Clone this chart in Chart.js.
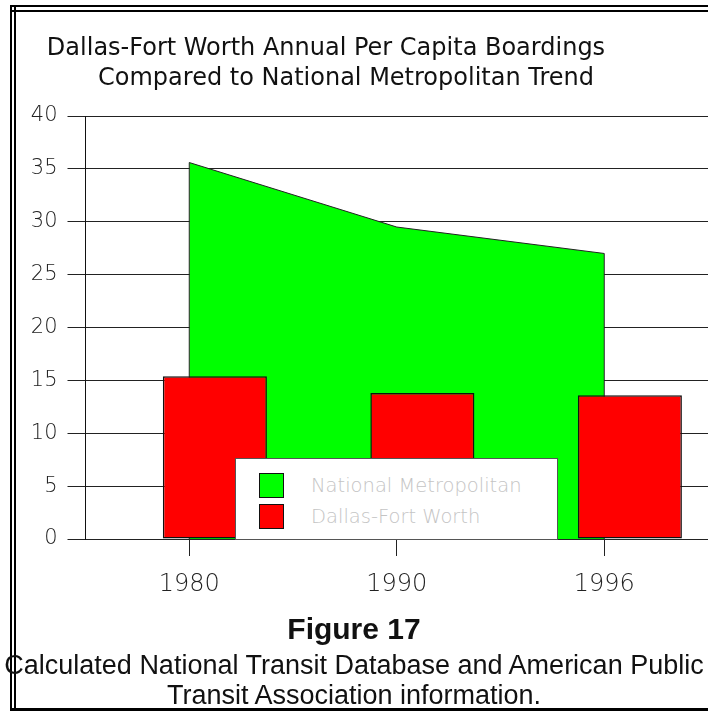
<!DOCTYPE html>
<html>
<head>
<meta charset="utf-8">
<script src="https://cdn.jsdelivr.net/npm/chart.js@4.4.1/dist/chart.umd.min.js"></script>
<style>
  html, body { margin: 0; padding: 0; background: #fff; overflow: hidden; }
  #page { position: relative; width: 708px; height: 711px; overflow: hidden; font-family: "DejaVu Sans", sans-serif; }
  #frameLeft { position: absolute; left: 10px; top: 5px; width: 6px; height: 706px; box-sizing: border-box;
               border-left: 2px solid #000; border-right: 2px solid #000; }
  #frameTop { position: absolute; left: 10px; top: 5px; width: 698px; height: 7px; box-sizing: border-box;
              border-top: 2px solid #000; border-bottom: 2px solid #000; }
  #frameBottom { position: absolute; left: 10px; top: 708px; width: 698px; height: 3px; background: #000; }
  #chart { position: absolute; left: 0; top: 0; }
  .title { position: absolute; width: 640px; text-align: center; font-size: 24px; line-height: 24px; color: #111; white-space: nowrap; }
  .caption { position: absolute; left: 0; width: 708px; text-align: center; white-space: nowrap; color: #111;
             font-family: "Liberation Sans Narrow", "Liberation Sans", sans-serif; }
  #legendBox { position: absolute; left: 235px; top: 458px; width: 323px; height: 82px; box-sizing: border-box;
               border: 1px solid #555; background: #fff; padding: 11px 0 0 23px; }
  .legItem { display: flex; align-items: center; height: 31px; }
  .legSwatch { width: 25px; height: 25px; box-sizing: border-box; border: 1.5px solid #111; margin-right: 27px; }
  .legText { font-family: "DejaVu Sans ExtraLight", "DejaVu Sans", sans-serif; font-size: 19.5px; font-weight: 200; color: #c4c4c4; white-space: nowrap; }
</style>
</head>
<body>
<div id="page">
  <canvas id="chart" width="708" height="620"></canvas>
  <div id="frameLeft"></div>
  <div id="frameTop"></div>
  <div id="frameBottom"></div>
  <div class="title" style="left:6px; top:35px;">Dallas-Fort Worth Annual Per Capita Boardings</div>
  <div class="title" style="left:26px; top:65px;">Compared to National Metropolitan Trend</div>
  <div class="caption" style="top:612px; font-size:30px; font-weight:bold;">Figure 17</div>
  <div class="caption" style="top:650px; font-size:27px;">Calculated National Transit Database and American Public</div>
  <div class="caption" style="top:680px; font-size:27px;">Transit Association information.</div>
  <div id="legendBox"></div>
</div>
<script>
// 데이터
var years = ['1980', '1990', '1996'];
var nationalValues = [35.6, 29.5, 27.0];   // National Metropolitan
var dfwValues = [15.4, 13.8, 13.6];        // Dallas-Fort Worth
var yMin = 0, yMax = 40, yStep = 5;

var seriesNames = ['National Metropolitan', 'Dallas-Fort Worth'];
var seriesColors = ['#00ff00', '#ff0000'];

var thinFont = '"DejaVu Sans ExtraLight", "DejaVu Sans", sans-serif';
Chart.defaults.font.family = thinFont;
Chart.defaults.color = '#222';

// 면적 차트 양 끝 세로선 그리기
var areaEdges = {
  id: 'areaEdges',
  afterDatasetDraw: function(chart, args) {
    if (chart.data.datasets[args.index].type !== 'line') return;
    var pts = args.meta.data;
    var base = chart.scales.y.getPixelForValue(0);
    var ctx = chart.ctx;
    ctx.save();
    ctx.strokeStyle = '#222';
    ctx.lineWidth = 1;
    [pts[0], pts[pts.length - 1]].forEach(function(p) {
      ctx.beginPath();
      ctx.moveTo(p.x, p.y);
      ctx.lineTo(p.x, base);
      ctx.stroke();
    });
    ctx.restore();
  }
};

var chart = new Chart(document.getElementById('chart').getContext('2d'), {
  data: {
    labels: years,
    datasets: [{
      type: 'line',
      label: seriesNames[0],
      data: nationalValues,
      fill: 'origin',
      backgroundColor: seriesColors[0],
      borderColor: '#222',
      borderWidth: 1,
      tension: 0,
      pointRadius: 0,
      order: 2
    }, {
      // 빈 자리 (막대를 오른쪽으로 밀기 위한 그룹 슬롯)
      type: 'bar',
      label: '',
      data: years.map(function() { return null; }),
      order: 0,
      categoryPercentage: 0.494,
      barPercentage: 2.03
    }, {
      type: 'bar',
      label: seriesNames[1],
      data: dfwValues,
      backgroundColor: seriesColors[1],
      borderColor: '#111',
      borderWidth: 1.5,
      borderSkipped: false,
      order: 1,
      categoryPercentage: 0.494,
      barPercentage: 2.03
    }]
  },
  options: {
    responsive: false,
    devicePixelRatio: 1,
    animation: false,
    layout: { padding: { top: 116, right: 0, bottom: 0, left: 0 } },
    plugins: { legend: { display: false }, tooltip: { enabled: false }, title: { display: false } },
    scales: {
      x: {
        type: 'category',
        offset: true,
        afterFit: function(s) { s.height = 81; },
        grid: { offset: false, drawOnChartArea: false, drawTicks: true, tickLength: 17, color: '#222', lineWidth: 1 },
        border: { display: true, color: '#222', width: 1 },
        ticks: { padding: 14, color: '#222', font: { size: 24, weight: '200' } }
      },
      y: {
        min: yMin,
        max: yMax,
        afterFit: function(s) { s.width = 85.5; },
        grid: { drawTicks: true, tickLength: 18, color: '#222', lineWidth: 1 },
        border: { display: true, color: '#111', width: 1 },
        ticks: { stepSize: yStep, padding: 10, color: '#222', font: { size: 21, weight: '200' } }
      }
    }
  },
  plugins: [areaEdges]
});

// 범례 만들기
var legendBox = document.getElementById('legendBox');
chart.data.datasets.forEach(function(ds) {
  if (!ds.label) return;
  var item = document.createElement('div');
  item.className = 'legItem';
  item.innerHTML = '<div class="legSwatch" style="background:' + ds.backgroundColor + '"></div>' +
                   '<div class="legText">' + ds.label + '</div>';
  legendBox.appendChild(item);
});
</script>
</body>
</html>
